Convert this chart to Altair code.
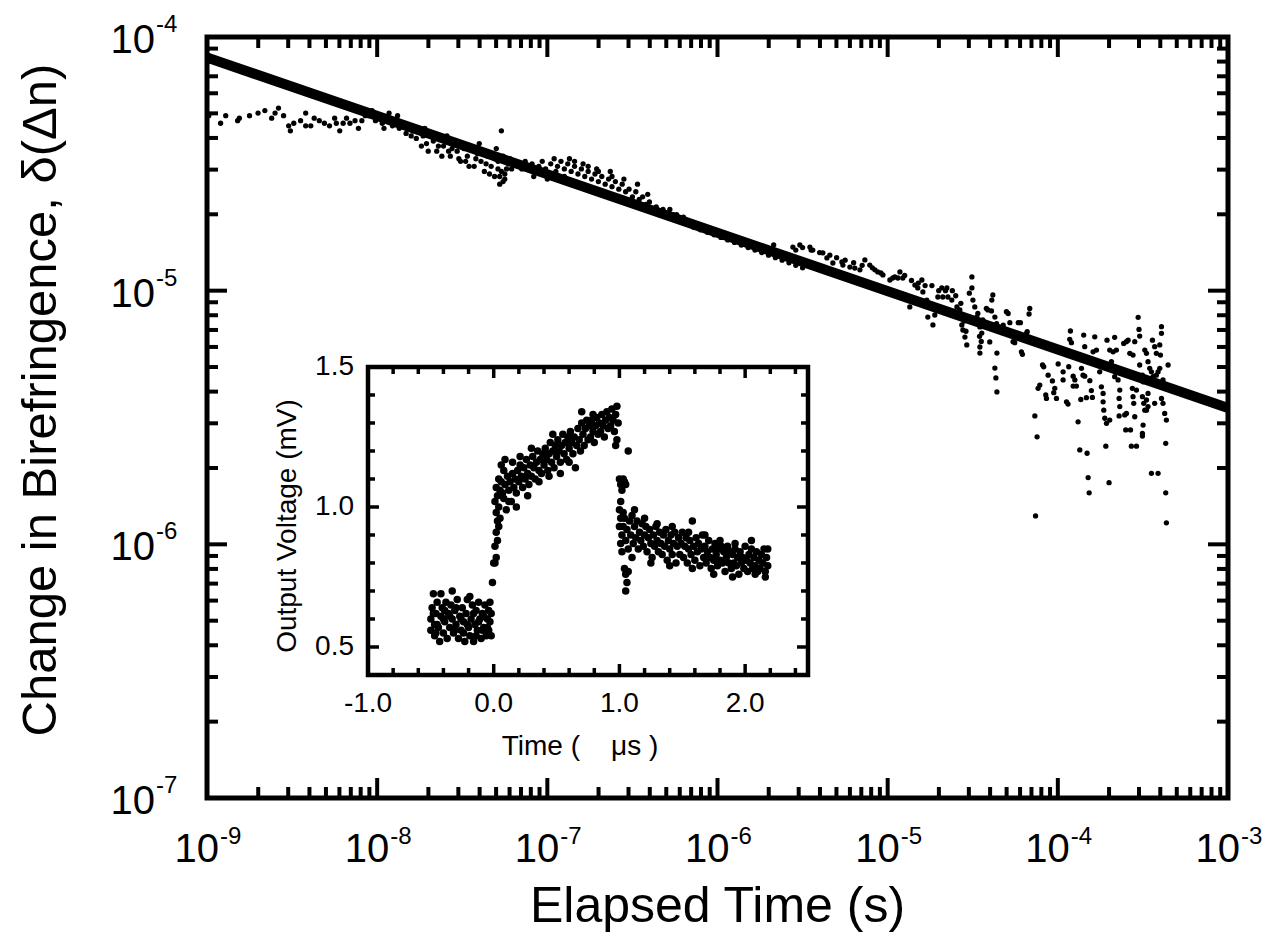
import altair as alt
import pandas as pd

FONT = "Liberation Sans"

# ---------------- main panel: values (log10 units) ----------------
fit_time = [1e-9, 1e-3]
fit_dn = [8.3e-5, 3.45e-6]

early = [(-8.99,-4.31),(-8.92,-4.34),(-8.89,-4.31),(-8.82,-4.33),(-8.81,-4.32),(-8.75,-4.31),(-8.70,-4.30),
         (-8.66,-4.29),(-8.62,-4.32),(-8.60,-4.30),(-8.58,-4.28),(-8.55,-4.31),(-8.52,-4.35),(-8.51,-4.37),
         (-8.49,-4.34),(-8.45,-4.33),(-8.42,-4.30),(-8.42,-4.35),(-8.39,-4.35),(-8.37,-4.32),(-8.34,-4.33),
         (-8.31,-4.34),(-8.28,-4.35),(-8.25,-4.32),(-8.24,-4.34),(-8.22,-4.37),(-8.20,-4.34),(-8.18,-4.32),
         (-8.16,-4.34),(-8.13,-4.33),(-8.11,-4.36),(-8.09,-4.33),(-8.07,-4.31)]

band = [(-8.05,-4.31),(-8.03,-4.29),(-8.01,-4.33),(-7.99,-4.31),(-7.97,-4.34),(-7.95,-4.32),(-7.93,-4.30),
        (-7.91,-4.35),(-7.89,-4.33),(-7.87,-4.36),(-7.85,-4.34),(-7.83,-4.38),(-7.81,-4.35),(-7.79,-4.37),
        (-7.77,-4.40),(-7.75,-4.36),(-7.73,-4.39),(-7.71,-4.42),(-7.69,-4.38),(-7.67,-4.41),(-7.65,-4.45),
        (-7.63,-4.40),(-7.61,-4.43),(-7.59,-4.39),(-7.57,-4.47),(-7.55,-4.42),(-7.53,-4.45),(-7.51,-4.49),
        (-7.49,-4.44),(-7.47,-4.47),(-7.45,-4.43),(-7.43,-4.51),(-7.41,-4.46),(-7.39,-4.49),(-7.37,-4.53),
        (-7.35,-4.47),(-7.33,-4.51),(-7.31,-4.55),(-7.30,-4.44),(-7.29,-4.49),(-7.28,-4.58),(-7.27,-4.53),
        (-7.26,-4.47),(-7.25,-4.56),(-7.24,-4.52),(-7.23,-4.50),(-7.27,-4.37),(-7.26,-4.57),(-7.25,-4.54),
        (-7.22,-4.48),(-7.21,-4.52),(-7.20,-4.50),(-7.34,-4.54),(-7.46,-4.51),(-7.58,-4.45),(-7.70,-4.45),
        (-7.74,-4.43),(-7.62,-4.47),(-7.52,-4.48),(-7.40,-4.42),(-7.32,-4.46),(-7.29,-4.52),
        (-7.96,-4.36),(-7.88,-4.31),(-7.80,-4.39),(-7.72,-4.36),(-7.64,-4.43),(-7.56,-4.44),(-7.48,-4.49),
        (-7.42,-4.48),(-7.36,-4.50),(-7.31,-4.48),(-7.28,-4.55),(-7.24,-4.48)]

mid = [(-7.17,-4.50),(-7.15,-4.52),(-7.13,-4.49),(-7.11,-4.51),(-7.09,-4.50),(-7.07,-4.53),(-7.05,-4.51),
       (-7.03,-4.49),(-7.01,-4.52),(-7.00,-4.56),(-6.98,-4.50),(-6.96,-4.48),(-6.94,-4.51),(-6.92,-4.49),
       (-6.90,-4.52),(-6.88,-4.50),(-6.86,-4.53),(-6.84,-4.51),(-6.82,-4.54),(-6.80,-4.52),(-6.78,-4.55),
       (-6.76,-4.53),(-6.74,-4.56),(-6.72,-4.54),(-6.70,-4.57),(-6.68,-4.55),(-6.66,-4.58),(-6.64,-4.56),
       (-6.62,-4.59),(-6.60,-4.57),(-6.58,-4.60),(-6.56,-4.58),(-6.54,-4.61),(-6.52,-4.60),(-6.50,-4.63),
       (-6.48,-4.61),(-6.46,-4.64),(-6.44,-4.63),(-6.42,-4.66),(-6.40,-4.65),(-6.38,-4.68),(-6.36,-4.67),
       (-6.34,-4.69),(-6.32,-4.68),(-6.30,-4.70),(-6.28,-4.68),(-6.26,-4.70),(-6.24,-4.70),(-6.22,-4.72),
       (-6.20,-4.71),(-6.18,-4.73),(-6.16,-4.73),(-6.14,-4.75),(-6.12,-4.74),(-6.10,-4.76),(-6.08,-4.75),
       (-6.06,-4.77),(-6.04,-4.76),(-6.02,-4.78),(-6.00,-4.77),(-5.98,-4.79),(-5.96,-4.78),(-5.94,-4.80),
       (-5.92,-4.79),(-5.90,-4.81),(-5.88,-4.80),(-5.86,-4.82),(-5.84,-4.81),(-5.82,-4.83),(-5.80,-4.82),
       (-5.78,-4.84),(-5.76,-4.83),(-5.74,-4.85),(-5.72,-4.84),(-5.70,-4.86),(-5.68,-4.85),(-5.66,-4.87),
       (-5.64,-4.86),(-5.62,-4.88),(-5.60,-4.87),(-5.58,-4.89),(-5.56,-4.88),(-5.54,-4.90),(-5.52,-4.89),
       (-5.50,-4.91),(-5.67,-4.82),(-6.70,-4.53),(-6.62,-4.55),(-6.84,-4.49),(-6.76,-4.51),(-6.90,-4.55),
       (-7.08,-4.55),(-6.95,-4.53),(-6.87,-4.48),(-6.79,-4.50),(-6.71,-4.52),(-6.63,-4.53),(-6.55,-4.56),
       (-6.47,-4.58),(-6.41,-4.62)]

late = [(-5.557,-4.828),(-5.516,-4.820),(-5.457,-4.828),(-5.440,-4.840),(-5.381,-4.851),(-5.357,-4.871),
        (-5.322,-4.891),(-5.269,-4.887),(-5.263,-4.899),(-5.222,-4.907),(-5.193,-4.911),(-5.163,-4.918),
        (-5.134,-4.879),(-5.105,-4.899),(-5.075,-4.918),(-5.058,-4.926),(-5.028,-4.938),(-4.987,-4.958),
        (-4.958,-4.946),(-4.928,-4.926),(-4.911,-4.950),(-4.870,-5.064),(-4.840,-4.978),(-4.823,-4.989),
        (-4.799,-4.958),(-4.793,-5.005),(-4.770,-5.037),(-4.764,-5.104),(-4.734,-5.135),(-4.723,-5.096),
        (-4.705,-5.025),(-4.682,-4.989),(-4.676,-5.025),(-4.652,-4.989),(-4.646,-5.025),(-4.623,-5.037),
        (-4.593,-5.064),(-4.576,-5.076),(-4.564,-5.135),(-4.558,-5.155),(-4.546,-5.183),(-4.535,-5.214),
        (-4.505,-4.946),(-4.505,-4.989),(-4.499,-5.037),(-4.488,-5.064),(-4.476,-5.104),(-4.458,-5.143),
        (-4.447,-5.167),(-4.458,-5.222),(-4.458,-5.246),(-4.441,-5.115),(-4.411,-5.076),(-4.400,-5.202),
        (-4.388,-5.037),(-4.382,-5.017),(-4.370,-5.104),(-4.358,-5.246),(-4.370,-5.305),(-4.364,-5.344),
        (-4.358,-5.399),(-4.56,-5.10),(-4.55,-5.12),(-4.54,-5.16),(-4.47,-5.09),(-4.46,-5.18),(-4.45,-5.20),
        (-4.52,-5.01),(-4.57,-5.05),(-4.60,-5.02),(-4.62,-5.00),(-4.66,-5.00),(-4.70,-5.00),(-4.74,-4.98),
        (-4.78,-4.98),(-4.82,-4.97),(-4.86,-4.96),(-4.90,-4.94),(-4.94,-4.95),(-4.97,-4.95),(-5.04,-4.93),
        (-5.09,-4.91),(-5.15,-4.90),(-5.20,-4.89),(-5.25,-4.88),(-5.30,-4.87),(-5.34,-4.86),(-5.40,-4.85),
        (-5.45,-4.84),(-5.50,-4.83),(-5.54,-4.84),(-4.42,-5.07),(-4.39,-5.08),(-4.36,-5.13),(-4.35,-5.15)]

tail = [(-4.302,-5.083),(-4.292,-5.090),(-4.165,-5.070),(-4.169,-5.092),(-4.321,-5.136),(-4.282,-5.126),
        (-4.233,-5.126),(-4.220,-5.126),(-4.263,-5.201),(-4.253,-5.205),(-4.214,-5.241),(-4.208,-5.251),
        (-4.184,-5.168),(-4.180,-5.162),(-4.135,-5.494),(-4.122,-5.576),(-4.131,-5.888),(-4.090,-5.293),
        (-4.083,-5.300),(-4.057,-5.333),(-4.106,-5.372),(-4.116,-5.385),(-4.071,-5.411),(-4.067,-5.425),
        (-4.032,-5.356),(-4.018,-5.385),(-4.024,-5.402),(-4.008,-5.425),(-3.998,-5.289),(-3.969,-5.320),
        (-3.969,-5.352),(-3.949,-5.438),(-3.940,-5.447),(-3.936,-5.300),(-3.926,-5.159),(-3.930,-5.192),
        (-3.920,-5.205),(-3.910,-5.337),(-3.900,-5.352),(-3.910,-5.376),(-3.891,-5.376),(-3.881,-5.517),
        (-3.871,-5.628),(-3.861,-5.306),(-3.852,-5.333),(-3.842,-5.337),(-3.865,-5.429),(-3.848,-5.175),
        (-3.842,-5.221),(-3.828,-5.641),(-3.822,-5.737),(-3.816,-5.797),(-3.832,-5.422),(-3.812,-5.355),
        (-3.803,-5.394),(-3.797,-5.421),(-3.783,-5.182),(-3.773,-5.234),(-3.793,-5.241),(-3.754,-5.320),
        (-3.744,-5.379),(-3.734,-5.405),(-3.734,-5.438),(-3.730,-5.471),(-3.724,-5.503),(-3.714,-5.523),
        (-3.695,-5.510),(-3.718,-5.613),(-3.699,-5.757),(-3.711,-5.195),(-3.695,-5.234),(-3.675,-5.241),
        (-3.666,-5.184),(-3.656,-5.234),(-3.685,-5.280),(-3.666,-5.339),(-3.646,-5.352),(-3.636,-5.392),
        (-3.640,-5.425),(-3.636,-5.457),(-3.640,-5.494),(-3.607,-5.490),(-3.597,-5.484),(-3.601,-5.549),
        (-3.573,-5.549),(-3.613,-5.208),(-3.597,-5.201),(-3.587,-5.195),(-3.577,-5.247),(-3.558,-5.254),
        (-3.548,-5.201),(-3.562,-5.385),(-3.558,-5.418),(-3.554,-5.444),(-3.548,-5.497),(-3.538,-5.392),
        (-3.528,-5.105),(-3.523,-5.153),(-3.519,-5.179),(-3.519,-5.293),(-3.503,-5.333),(-3.499,-5.359),
        (-3.503,-5.418),(-3.495,-5.444),(-3.489,-5.471),(-3.479,-5.431),(-3.470,-5.405),(-3.499,-5.530),
        (-3.503,-5.563),(-3.503,-5.573),(-3.568,-5.613),(-3.538,-5.613),(-3.489,-5.234),(-3.479,-5.247),
        (-3.470,-5.280),(-3.460,-5.306),(-3.450,-5.320),(-3.444,-5.195),(-3.431,-5.221),(-3.421,-5.247),
        (-3.440,-5.339),(-3.421,-5.333),(-3.411,-5.320),(-3.401,-5.306),(-3.391,-5.142),(-3.391,-5.168),
        (-3.401,-5.214),(-3.397,-5.254),(-3.382,-5.352),(-3.378,-5.366),(-3.391,-5.425),(-3.382,-5.444),
        (-3.372,-5.484),(-3.362,-5.510),(-3.366,-5.602),(-3.450,-5.720),(-3.411,-5.720),(-3.366,-5.797),
        (-3.362,-5.915),(-3.352,-5.293),(-3.431,-5.444),(-3.470,-5.457),(-3.479,-5.471)]

# ---------------- inset: output voltage (mV) vs time (us) ----------------
inset_before = [(-0.50,0.60),(-0.50,0.56),(-0.49,0.64),(-0.48,0.69),(-0.47,0.58),(-0.47,0.54),(-0.46,0.62),
                (-0.45,0.66),(-0.44,0.57),(-0.43,0.52),(-0.42,0.61),(-0.42,0.69),(-0.41,0.64),(-0.40,0.55),
                (-0.39,0.59),(-0.38,0.66),(-0.37,0.53),(-0.36,0.62),(-0.35,0.57),(-0.34,0.65),(-0.33,0.70),
                (-0.33,0.60),(-0.32,0.55),(-0.31,0.63),(-0.30,0.58),(-0.29,0.67),(-0.28,0.53),(-0.27,0.61),
                (-0.26,0.56),(-0.25,0.64),(-0.24,0.59),(-0.23,0.52),(-0.22,0.62),(-0.21,0.67),(-0.20,0.57),
                (-0.19,0.68),(-0.19,0.54),(-0.18,0.60),(-0.17,0.65),(-0.16,0.52),(-0.15,0.58),(-0.14,0.63),
                (-0.13,0.56),(-0.12,0.66),(-0.11,0.60),(-0.10,0.53),(-0.09,0.62),(-0.08,0.57),(-0.07,0.65),
                (-0.06,0.54),(-0.05,0.60),(-0.04,0.63),(-0.04,0.56),(-0.03,0.59),(-0.02,0.62),(-0.02,0.54),
                (-0.48,0.62),(-0.45,0.58),(-0.39,0.63),(-0.35,0.61),(-0.30,0.64),(-0.26,0.60),(-0.21,0.58),
                (-0.16,0.62),(-0.12,0.59),(-0.08,0.61),(-0.05,0.57),(-0.46,0.55),(-0.40,0.60),(-0.31,0.56),
                (-0.24,0.55),(-0.14,0.54),(-0.09,0.56),(-0.03,0.66)]

inset_rise = [(-0.01,0.73),(0.00,0.80),(0.01,0.80),(0.02,0.82),(0.01,0.86),(0.03,0.88),(0.02,0.91),(0.04,0.93),
              (0.03,0.95),(0.05,0.96),(0.02,0.98),(0.04,1.00),(0.01,1.02),(0.03,1.04),(0.05,1.06),(0.02,1.07),
              (0.06,1.09),(0.07,1.05),(0.04,1.10),(0.06,1.15),(0.08,1.13),(0.09,1.08),(0.08,1.03),(0.10,0.99),
              (0.11,1.11),(0.12,1.06),(0.13,1.09),(0.14,1.02),(0.15,1.12),(0.16,1.07),(0.17,1.10),(0.18,1.05),
              (0.19,1.13),(0.20,1.09),(0.21,1.15),(0.22,1.11),(0.23,1.07),(0.24,1.14),(0.25,1.10),(0.26,1.17),
              (0.27,1.12),(0.28,1.08),(0.29,1.15),(0.30,1.11),(0.31,1.18),(0.32,1.14),(0.33,1.10),(0.34,1.16),
              (0.35,1.20),(0.36,1.13),(0.37,1.17),(0.38,1.12),(0.39,1.19),(0.40,1.15),(0.41,1.21),(0.42,1.17),
              (0.43,1.13),(0.44,1.19),(0.45,1.23),(0.46,1.16),(0.47,1.20),(0.48,1.14),(0.49,1.22),(0.50,1.18),
              (0.51,1.24),(0.52,1.20),(0.53,1.16),(0.54,1.22),(0.55,1.26),(0.56,1.19),(0.57,1.23),(0.58,1.17),
              (0.59,1.25),(0.60,1.21),(0.61,1.27),(0.62,1.23),(0.63,1.19),(0.64,1.25),(0.65,1.14),(0.66,1.22),
              (0.67,1.28),(0.68,1.24),(0.69,1.20),(0.70,1.30),(0.71,1.26),(0.72,1.22),(0.73,1.28),(0.74,1.31),
              (0.75,1.24),(0.76,1.29),(0.77,1.25),(0.78,1.31),(0.79,1.27),(0.80,1.23),(0.81,1.29),(0.82,1.32),
              (0.83,1.26),(0.84,1.30),(0.85,1.27),(0.86,1.33),(0.87,1.29),(0.88,1.25),(0.89,1.31),(0.90,1.34),
              (0.91,1.28),(0.92,1.32),(0.93,1.29),(0.94,1.35),(0.95,1.31),(0.96,1.27),(0.97,1.33),(0.98,1.36),
              (0.98,1.24),(0.99,1.30),(0.97,1.22),(0.12,1.02),(0.18,1.00),(0.27,1.04),(0.36,1.09),(0.44,1.11),
              (0.53,1.12),(0.60,1.16),(0.21,1.18),(0.15,1.16),(0.09,1.17),(0.30,1.21),(0.47,1.26),(0.70,1.34),
              (0.79,1.33)]

inset_decay = [(1.00,1.10),(1.01,1.08),(1.02,1.06),(1.03,1.10),(1.04,1.09),(1.05,1.08),(1.07,1.20),(1.01,1.02),
               (1.00,0.99),(1.01,0.96),(1.00,0.93),(1.02,0.90),(1.01,0.87),(1.03,0.98),(1.02,0.84),(1.04,0.78),
               (1.05,0.76),(1.06,0.73),(1.05,0.70),(1.07,0.77),(1.03,0.93),(1.04,0.96),(1.06,0.92),(1.05,0.88),
               (1.07,0.85),(1.08,0.95),(1.09,0.90),(1.10,0.97),(1.11,0.87),(1.12,0.93),(1.13,0.89),(1.14,0.95),
               (1.15,0.85),(1.16,0.91),(1.17,0.88),(1.18,0.94),(1.19,0.86),(1.20,0.90),(1.21,0.93),(1.22,0.84),
               (1.23,0.89),(1.24,0.92),(1.25,0.87),(1.26,0.82),(1.27,0.90),(1.28,0.86),(1.29,0.93),(1.30,0.88),
               (1.31,0.84),(1.32,0.91),(1.33,0.87),(1.34,0.83),(1.35,0.90),(1.36,0.86),(1.37,0.92),(1.38,0.81),
               (1.39,0.88),(1.40,0.85),(1.41,0.90),(1.42,0.83),(1.43,0.87),(1.44,0.91),(1.45,0.80),(1.46,0.86),
               (1.47,0.89),(1.48,0.83),(1.49,0.87),(1.50,0.91),(1.51,0.82),(1.52,0.86),(1.53,0.89),(1.54,0.80),
               (1.55,0.85),(1.56,0.88),(1.57,0.83),(1.58,0.95),(1.59,0.86),(1.60,0.81),(1.61,0.89),(1.62,0.84),
               (1.63,0.87),(1.64,0.79),(1.65,0.85),(1.66,0.90),(1.67,0.82),(1.68,0.86),(1.69,0.80),(1.70,0.84),
               (1.71,0.88),(1.72,0.82),(1.73,0.78),(1.74,0.85),(1.75,0.81),(1.76,0.87),(1.77,0.83),(1.78,0.79),
               (1.79,0.85),(1.80,0.81),(1.81,0.86),(1.82,0.80),(1.83,0.84),(1.84,0.77),(1.85,0.82),(1.86,0.86),
               (1.87,0.80),(1.88,0.84),(1.89,0.78),(1.90,0.83),(1.91,0.80),(1.92,0.85),(1.93,0.79),(1.94,0.82),
               (1.95,0.76),(1.96,0.84),(1.97,0.80),(1.98,0.82),(1.99,0.78),(2.00,0.86),(2.01,0.81),(2.02,0.77),
               (2.03,0.83),(2.04,0.80),(2.05,0.85),(2.06,0.78),(2.07,0.82),(2.08,0.79),(2.09,0.84),(2.10,0.77),
               (2.11,0.81),(2.12,0.78),(2.13,0.83),(2.14,0.80),(2.15,0.85),(2.16,0.77),(2.17,0.82),(2.18,0.79),
               (2.18,0.85),(1.12,0.99),(1.20,0.96),(1.30,0.94),(1.42,0.93),(1.55,0.91),(1.68,0.90),(1.80,0.88),
               (1.92,0.87),(2.05,0.88),(1.10,0.82),(1.25,0.80),(1.40,0.79),(1.58,0.78),(1.75,0.76),(1.90,0.75),
               (2.08,0.76),(2.16,0.75)]

# ---------------- ticks and labels ----------------
x_major = [1e-9, 1e-8, 1e-7, 1e-6, 1e-5, 1e-4, 1e-3]
x_exp = ["-9", "-8", "-7", "-6", "-5", "-4", "-3"]
y_major = [1e-7, 1e-6, 1e-5, 1e-4]
y_exp = ["-7", "-6", "-5", "-4"]
x_minor = [m * d for d in x_major[:-1] for m in range(2, 10)]
y_minor = [m * d for d in y_major[:-1] for m in range(2, 10)]

in_x_major = [-1.0, 0.0, 1.0, 2.0]
in_x_labels = ["-1.0", "0.0", "1.0", "2.0"]
in_x_minor = [-0.8, -0.6, -0.4, -0.2, 0.2, 0.4, 0.6, 0.8, 1.2, 1.4, 1.6, 1.8, 2.2, 2.4]
in_y_major = [0.5, 1.0, 1.5]
in_y_labels = ["0.5", "1.0", "1.5"]
in_y_minor = [0.6, 0.7, 0.8, 0.9, 1.1, 1.2, 1.3, 1.4]

# ---------------- layout ----------------
W, H = 1021, 761
IX0, IX1 = 161, 601      # inset frame, left / right (px in plot)
IY0, IY1 = 638, 330      # inset frame, bottom / top

xs = alt.Scale(type="log", domain=[1e-9, 1e-3], nice=False)
ys = alt.Scale(type="log", domain=[1e-7, 1e-4], nice=False)
xi = alt.Scale(domain=[-1.0, 2.5], range=[IX0, IX1], nice=False, zero=False)
yi = alt.Scale(domain=[0.4, 1.5], range=[IY0, IY1], nice=False, zero=False)


def MX(f):
    return alt.X(f"{f}:Q", scale=xs, axis=None)


def MY(f):
    return alt.Y(f"{f}:Q", scale=ys, axis=None)


def IXe(f):
    return alt.X(f"{f}:Q", scale=xi, axis=None)


def IYe(f):
    return alt.Y(f"{f}:Q", scale=yi, axis=None)


main_pts = early + band + mid + late + tail
main_df = pd.DataFrame({"time": [10 ** p[0] for p in main_pts],
                        "dn": [10 ** p[1] for p in main_pts]})
fit_df = pd.DataFrame({"time": fit_time, "dn": fit_dn})
mframe_df = pd.DataFrame({"x0": [1e-9], "x1": [1e-3], "y0": [1e-7], "y1": [1e-4]})

fit = alt.Chart(fit_df).mark_line(color="black", strokeWidth=10).encode(x=MX("time"), y=MY("dn"))
pts = alt.Chart(main_df).mark_circle(color="black", size=28, opacity=1).encode(x=MX("time"), y=MY("dn"))
mframe = alt.Chart(mframe_df).mark_rect(fill=None, stroke="black", strokeWidth=5).encode(
    x=MX("x0"), x2="x1", y=MY("y0"), y2="y1")


def m_xticks(vals, length, top):
    d = pd.DataFrame({"v": vals})
    y0, y1 = (0, length) if top else (H, H - length)
    return alt.Chart(d).mark_rule(color="black", strokeWidth=4).encode(
        x=MX("v"), y=alt.value(y0), y2=alt.value(y1))


def m_yticks(vals, length, right):
    d = pd.DataFrame({"v": vals})
    x0, x1 = (W, W - length) if right else (0, length)
    return alt.Chart(d).mark_rule(color="black", strokeWidth=4).encode(
        y=MY("v"), x=alt.value(x0), x2=alt.value(x1))


xl_df = pd.DataFrame({"v": x_major, "e": x_exp})
yl_df = pd.DataFrame({"v": y_major, "e": y_exp})

x10 = alt.Chart(xl_df).mark_text(text="10", font=FONT, fontSize=40, align="right",
                                 baseline="alphabetic", dx=12).encode(x=MX("v"), y=alt.value(H + 64))
xe = alt.Chart(xl_df).mark_text(font=FONT, fontSize=24, align="left", baseline="alphabetic",
                                dx=13).encode(x=MX("v"), y=alt.value(H + 46), text="e:N")
y10 = alt.Chart(yl_df).mark_text(text="10", font=FONT, fontSize=40, align="right",
                                 baseline="alphabetic", dy=16).encode(y=MY("v"), x=alt.value(-52))
ye = alt.Chart(yl_df).mark_text(font=FONT, fontSize=24, align="left", baseline="alphabetic",
                                dy=-5).encode(y=MY("v"), x=alt.value(-51), text="e:N")

xtitle = alt.Chart(pd.DataFrame({"t": ["Elapsed Time (s)"]})).mark_text(
    font=FONT, fontSize=50, align="center", baseline="alphabetic").encode(
    x=alt.value(W / 2), y=alt.value(H + 124), text="t:N")
ytitle = alt.Chart(pd.DataFrame({"t": ["Change in Birefringence, δ(Δn)"]})).mark_text(
    font=FONT, fontSize=49, align="center", baseline="middle", angle=270).encode(
    x=alt.value(-166), y=alt.value(363), text="t:N")

main = alt.layer(
    fit, pts,
    m_xticks(x_major, 20, False), m_xticks(x_minor, 11, False),
    m_xticks(x_major, 20, True), m_xticks(x_minor, 11, True),
    m_yticks(y_major, 20, False), m_yticks(y_minor, 11, False),
    m_yticks(y_major, 20, True), m_yticks(y_minor, 11, True),
    mframe,
    x10, xe, y10, ye, xtitle, ytitle,
)

# ---------------- inset ----------------
inset_pts = inset_before + inset_rise + inset_decay
inset_df = pd.DataFrame({"time_us": [p[0] for p in inset_pts], "volt": [p[1] for p in inset_pts]})
frame_df = pd.DataFrame({"x0": [-1.0], "x1": [2.5], "y0": [0.4], "y1": [1.5]})

iback = alt.Chart(frame_df).mark_rect(fill="white").encode(
    x=IXe("x0"), x2="x1", y=IYe("y0"), y2="y1")
iframe = alt.Chart(frame_df).mark_rect(fill=None, stroke="black", strokeWidth=4.5).encode(
    x=IXe("x0"), x2="x1", y=IYe("y0"), y2="y1")
ipts = alt.Chart(inset_df).mark_circle(color="black", size=56, opacity=1).encode(
    x=IXe("time_us"), y=IYe("volt"))


def i_xticks(vals, length, top):
    d = pd.DataFrame({"v": vals})
    y0, y1 = (IY1, IY1 + length) if top else (IY0, IY0 - length)
    return alt.Chart(d).mark_rule(color="black", strokeWidth=3.5).encode(
        x=IXe("v"), y=alt.value(y0), y2=alt.value(y1))


def i_yticks(vals, length, right):
    d = pd.DataFrame({"v": vals})
    x0, x1 = (IX1, IX1 - length) if right else (IX0, IX0 + length)
    return alt.Chart(d).mark_rule(color="black", strokeWidth=3.5).encode(
        y=IYe("v"), x=alt.value(x0), x2=alt.value(x1))


ixl = alt.Chart(pd.DataFrame({"v": in_x_major, "l": in_x_labels})).mark_text(
    font=FONT, fontSize=28, align="center", baseline="alphabetic").encode(
    x=IXe("v"), y=alt.value(IY0 + 37), text="l:N")
iyl = alt.Chart(pd.DataFrame({"v": in_y_major, "l": in_y_labels})).mark_text(
    font=FONT, fontSize=28, align="right", baseline="middle").encode(
    y=IYe("v"), x=alt.value(IX0 - 14), text="l:N")
ixt = alt.Chart(pd.DataFrame({"t": ["Time (\u00a0\u00a0\u00a0\u00a0μs )"]})).mark_text(
    font=FONT, fontSize=28, align="center", baseline="alphabetic").encode(
    x=alt.value((IX0 + IX1) / 2 - 8), y=alt.value(IY0 + 80), text="t:N")
iyt = alt.Chart(pd.DataFrame({"t": ["Output Voltage (mV)"]})).mark_text(
    font=FONT, fontSize=28, align="center", baseline="middle", angle=270).encode(
    x=alt.value(IX0 - 80), y=alt.value((IY0 + IY1) / 2 + 5), text="t:N")

inset = alt.layer(
    iback, ipts,
    i_xticks(in_x_major, 11, False), i_xticks(in_x_minor, 7, False),
    i_xticks(in_x_major, 11, True), i_xticks(in_x_minor, 7, True),
    i_yticks(in_y_major, 11, False), i_yticks(in_y_minor, 7, False),
    i_yticks(in_y_major, 11, True), i_yticks(in_y_minor, 7, True),
    iframe, ixl, iyl, ixt, iyt,
)

chart = alt.layer(main, inset).resolve_scale(x="independent", y="independent").properties(
    width=W, height=H,
    padding={"left": 199, "top": 29, "right": 48, "bottom": 134},
    autosize=alt.AutoSizeParams(type="none"),
).configure_view(stroke=None)

chart.save("out.html", embed_options={"renderer": "svg", "actions": False})
